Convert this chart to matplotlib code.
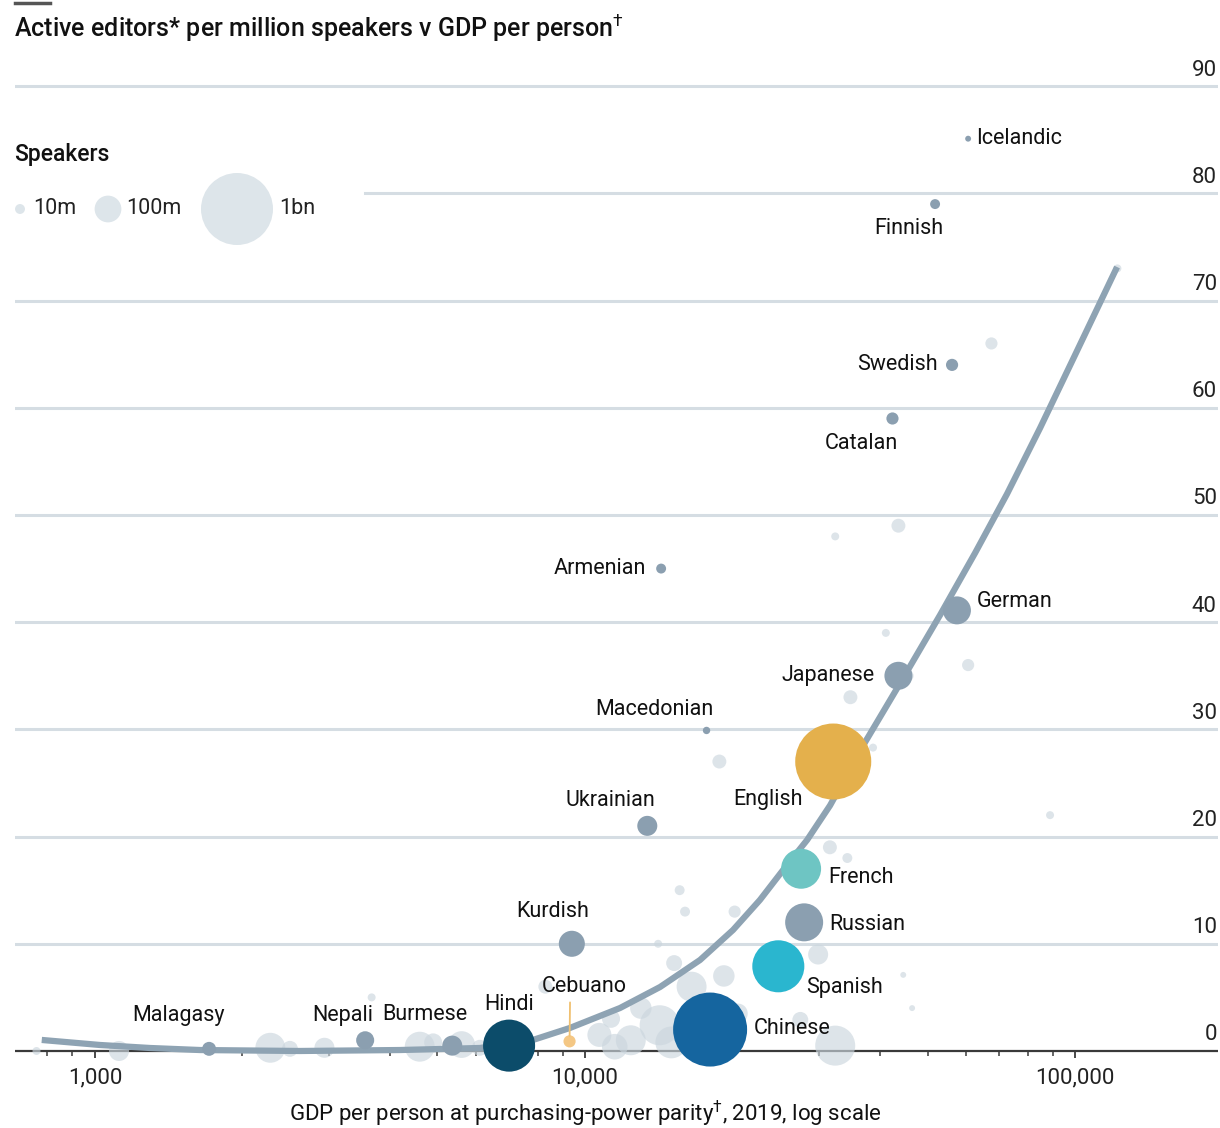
import matplotlib
matplotlib.use("Agg")
import matplotlib.pyplot as plt
import matplotlib.transforms as mtransforms

plt.rcParams['font.family'] = ['Roboto', 'DejaVu Sans']
plt.rcParams['mathtext.fontset'] = 'custom'
plt.rcParams['mathtext.rm'] = 'Roboto'
plt.rcParams['mathtext.it'] = 'Roboto'

#****************************************************************************
# data
#****************************************************************************

# labelled languages: GDP per person (PPP, 2019), active editors per million
# speakers, speakers (millions)
names = ['Icelandic', 'Finnish', 'Swedish', 'Catalan', 'Armenian', 'German',
         'Japanese', 'Macedonian', 'English', 'Ukrainian', 'French', 'Russian',
         'Kurdish', 'Spanish', 'Chinese', 'Hindi', 'Cebuano', 'Burmese',
         'Nepali', 'Malagasy']
gdp = [60500, 51800, 56100, 42400, 14300, 57400,
       43600, 17700, 32100, 13400, 27600, 28000,
       9400, 24800, 18000, 7000, 9300, 5360,
       3560, 1710]
editors = [85.1, 79.0, 64.0, 59.0, 45.0, 41.1,
           35.0, 29.9, 27.0, 21.0, 17.0, 12.0,
           10.0, 7.9, 2.0, 0.5, 0.9, 0.5,
           1.0, 0.2]
speakers = [3, 10, 16, 16, 10, 111,
            111, 5, 1135, 51, 255, 226,
            94, 470, 1066, 470, 16, 51,
            40, 22]

# unlabelled languages
other_gdp = [67500, 43600, 32400, 41100, 60500, 34800, 45500, 18800, 38700,
             88900, 31600, 34300, 26800, 15600, 16000, 20200, 14100, 29900,
             46500, 44600, 15200, 19200, 16500, 14200, 12400, 10700, 27500,
             32400, 2280, 2940, 1120, 760, 4600, 3670, 8300, 122000, 5600,
             13000, 11300, 20500, 15000, 11500, 4900, 2500, 6100]
other_editors = [66.0, 49.0, 48.0, 39.0, 36.0, 33.0, 35.0, 27.0, 28.3,
                 22.0, 19.0, 18.0, 17.5, 15.0, 13.0, 13.0, 10.0, 9.0,
                 4.0, 7.1, 8.2, 7.0, 6.0, 2.4, 1.0, 1.5, 2.9,
                 0.5, 0.3, 0.3, 0.0, 0.0, 0.4, 5.0, 6.0, 73.0, 0.6,
                 4.0, 3.0, 3.5, 0.8, 0.4, 0.8, 0.2, 0.3]
other_speakers = [16, 22, 6, 6, 16, 22, 16, 22, 6,
                  6, 22, 10, 6, 10, 10, 16, 6, 51,
                  3, 3, 30, 60, 130, 255, 130, 78, 30,
                  255, 130, 51, 51, 6, 130, 6, 22, 6, 100,
                  60, 40, 50, 150, 90, 40, 30, 30]

# fitted trend
trend_gdp = [779, 1024, 1295, 1638, 2620, 4193, 6107, 7832, 9320, 11790,
             14230, 17170, 20050, 22750, 25360, 28390, 31620, 37100, 44360,
             53030, 62520, 72630, 84850, 100000, 121800]
trend_editors = [1.03, 0.56, 0.28, 0.09, 0.0, 0.09, 0.28, 1.03, 2.15, 4.01,
                 5.97, 8.49, 11.29, 14.09, 16.88, 19.68, 22.9, 28.64, 34.61,
                 40.67, 46.46, 51.96, 58.12, 64.93, 73.13]

legend_speakers = [10, 100, 1000]
legend_labels = ['10m', '100m', '1bn']

yticks = [0, 10, 20, 30, 40, 50, 60, 70, 80, 90]
xticks_major = [1000, 10000, 100000]
xtick_labels = ['1,000', '10,000', '100,000']

#****************************************************************************
# style
#****************************************************************************

DPI = 100
GREY_BLUE = '#8b9fb0'
LIGHT = '#cbd6de'
GRID = '#d5dde3'
FS = 15.5
DAGGER = '$^{\\mathrm{\u2020}}$'

colours = {'English': '#e4b04c', 'Chinese': '#15659f', 'Hindi': '#0c4c6a',
           'Spanish': '#2ab6cf', 'French': '#6ec5c3', 'Cebuano': '#f4c784'}

# label offset in pixels (dx, dy with y downward) and alignment
label_pos = {
    'Icelandic': (8, 0, 'left'),
    'Finnish': (-26, 24, 'center'),
    'Swedish': (-14, 0, 'right'),
    'Catalan': (-31, 25, 'center'),
    'Armenian': (-15, 0, 'right'),
    'German': (20, -9, 'left'),
    'Japanese': (-24, 0, 'right'),
    'Macedonian': (-52, -21, 'center'),
    'English': (-65, 38, 'center'),
    'Ukrainian': (-37, -25, 'center'),
    'French': (27, 9, 'left'),
    'Russian': (25, 2, 'left'),
    'Kurdish': (-19, -32, 'center'),
    'Spanish': (28, 21, 'left'),
    'Chinese': (44, -1, 'left'),
    'Hindi': (0, -41, 'center'),
    'Cebuano': (15, -55, 'center'),
    'Burmese': (-27, -31, 'center'),
    'Nepali': (-22, -25, 'center'),
    'Malagasy': (-31, -33, 'center'),
}


def marker_size(spk):
    r_px = 36.0 * (spk / 1000.0) ** 0.43
    r_pt = r_px * 72.0 / DPI
    return (2 * r_pt) ** 2


def px(v):
    return v * 72.0 / DPI


#****************************************************************************
# plot
#****************************************************************************

def main():
    fig = plt.figure(figsize=(12.2, 11.28), dpi=DPI)
    ax = fig.add_axes([15 / 1220, (1128 - 1072) / 1128, 1203 / 1220, 1012 / 1128])
    ax.set_xscale('log')
    ax.set_xlim(687, 195700)
    ax.set_ylim(-1.96, 92.44)
    ax.set_axis_off()

    # gridlines
    for y in yticks[1:]:
        xmin = 0.291 if y == 80 else 0.0
        ax.axhline(y, xmin=xmin, xmax=1.0, color=GRID, lw=2.2, zorder=0)
    ax.axhline(0, color='#3a3a3a', lw=1.6, zorder=0.5)

    # x ticks
    minor = [m * 10 ** e for e in (2, 3, 4) for m in range(1, 10)]
    minor = [t for t in minor if 800 <= t <= 100000 and t not in xticks_major]
    ax.vlines(minor, -0.45, 0, color='#3a3a3a', lw=1.1, zorder=0.5)
    ax.vlines(xticks_major, -0.7, 0, color='#3a3a3a', lw=1.3, zorder=0.5)
    for t, lab in zip(xticks_major, xtick_labels):
        ax.annotate(lab, (t, 0), xytext=(0, px(-27)), textcoords='offset points',
                    ha='center', va='center', fontsize=16, color='#222222')

    # y tick labels
    trans = mtransforms.blended_transform_factory(ax.transAxes, ax.transData)
    for y in yticks:
        ax.text(0.999, y + 1.5, str(y), transform=trans, ha='right',
                va='center', fontsize=16, color='#222222')

    # background languages
    ax.scatter(other_gdp, other_editors, s=[marker_size(v) for v in other_speakers],
               color=LIGHT, alpha=0.65, linewidths=0, zorder=1)

    # trend
    ax.plot(trend_gdp, trend_editors, color='#8ea3b3', lw=4.5,
            solid_capstyle='butt', solid_joinstyle='round', zorder=2)

    # labelled languages
    cols = [colours.get(n, GREY_BLUE) for n in names]
    ax.scatter(gdp, editors, s=[marker_size(v) for v in speakers],
               color=cols, linewidths=0, zorder=3)

    for n, x, y in zip(names, gdp, editors):
        dx, dy, ha = label_pos[n]
        kw = {}
        if n == 'Cebuano':
            kw['arrowprops'] = dict(arrowstyle='-', color='#f0c070', lw=1.3,
                                    shrinkA=2, shrinkB=4, relpos=(0.33, 0.0))
        ax.annotate(n, (x, y), xytext=(px(dx), px(-dy)),
                    textcoords='offset points', ha=ha, va='center',
                    fontsize=FS, color='#111111', zorder=4, **kw)

    # legend
    leg_x = [(20 - 15) / 1203, (108 - 15) / 1203, (237 - 15) / 1203]
    leg_y = (1072 - 209) / 1012
    lab_x = [(33 - 15) / 1203, (126 - 15) / 1203, (279 - 15) / 1203]
    ax.scatter(leg_x, [leg_y] * 3, s=[marker_size(v) for v in legend_speakers],
               color='#dde5ea', linewidths=0, transform=ax.transAxes,
               clip_on=False, zorder=1)
    for x, lab in zip(lab_x, legend_labels):
        ax.text(x, leg_y, lab, transform=ax.transAxes, ha='left', va='center',
                fontsize=FS, color='#222222')
    fig.text(14 / 1220, 1 - 155 / 1128, 'Speakers', ha='left', va='center',
             fontsize=16.5, fontweight='medium', color='#111111')

    # titles
    fig.text(14 / 1220, 1 - 28 / 1128,
             'Active editors* per million speakers v GDP per person' + DAGGER,
             ha='left', va='center', fontsize=18, fontweight='medium',
             color='#111111')
    fig.add_artist(plt.Line2D([15 / 1220, 50 / 1220], [1 - 3 / 1128, 1 - 3 / 1128],
                              color='#555555', lw=2.5))
    fig.text(585 / 1220, 1 - 1114 / 1128,
             'GDP per person at purchasing-power parity' + DAGGER + ', 2019, log scale',
             ha='center', va='center', fontsize=16, color='#111111')

    fig.savefig('out.png', dpi=DPI, facecolor='white')


if __name__ == '__main__':
    main()
